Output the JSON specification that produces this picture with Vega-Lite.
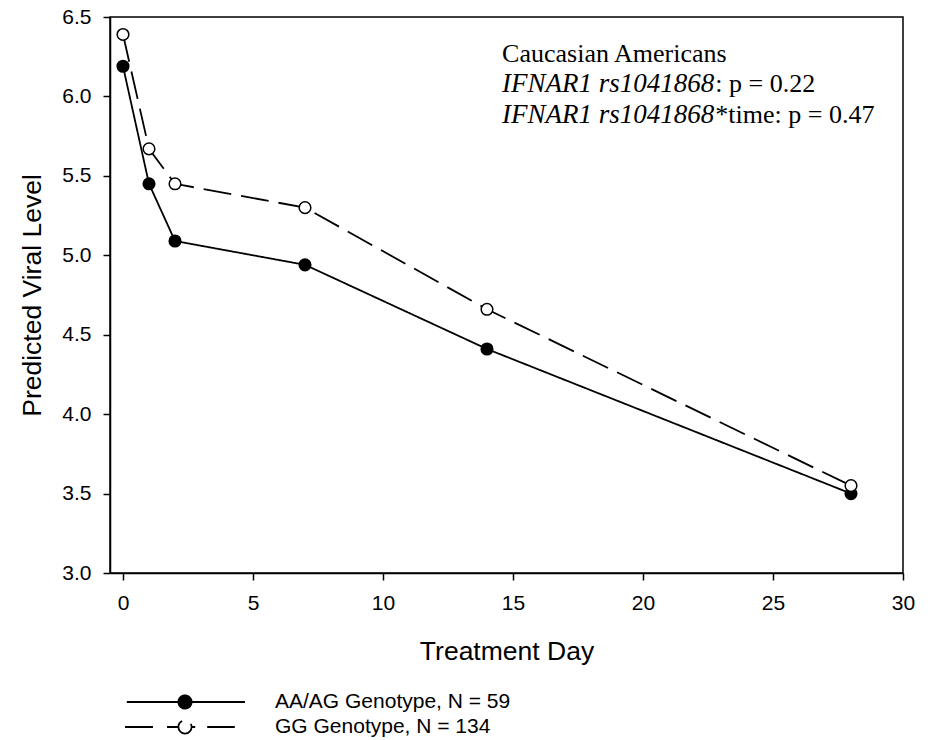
{
  "$schema": "https://vega.github.io/schema/vega-lite/v6.json",
  "width": 793,
  "height": 556,
  "autosize": {"type": "none"},
  "padding": {"left": 110, "top": 17, "right": 34, "bottom": 167},
  "background": "white",
  "config": {
    "font": "Liberation Sans",
    "view": {"stroke": "black", "strokeWidth": 1.5},
    "axis": {
      "grid": false,
      "domainColor": "black",
      "domainWidth": 1.5,
      "tickColor": "black",
      "tickWidth": 1.5,
      "tickSize": 7,
      "labelColor": "black",
      "labelFont": "Liberation Sans",
      "labelFontSize": 21,
      "labelFlush": false,
      "labelOverlap": false,
      "titleFont": "Liberation Sans",
      "titleFontSize": 26.5,
      "titleFontWeight": "normal",
      "titleColor": "black"
    }
  },
  "datasets": {
    "series": [
      {"day": 0, "level": 6.19, "genotype": "AA/AG Genotype, N = 59"},
      {"day": 1, "level": 5.45, "genotype": "AA/AG Genotype, N = 59"},
      {"day": 2, "level": 5.09, "genotype": "AA/AG Genotype, N = 59"},
      {"day": 7, "level": 4.94, "genotype": "AA/AG Genotype, N = 59"},
      {"day": 14, "level": 4.41, "genotype": "AA/AG Genotype, N = 59"},
      {"day": 28, "level": 3.5, "genotype": "AA/AG Genotype, N = 59"},
      {"day": 0, "level": 6.39, "genotype": "GG Genotype, N = 134"},
      {"day": 1, "level": 5.67, "genotype": "GG Genotype, N = 134"},
      {"day": 2, "level": 5.45, "genotype": "GG Genotype, N = 134"},
      {"day": 7, "level": 5.3, "genotype": "GG Genotype, N = 134"},
      {"day": 14, "level": 4.66, "genotype": "GG Genotype, N = 134"},
      {"day": 28, "level": 3.55, "genotype": "GG Genotype, N = 134"}
    ],
    "notes_regular": [
      {"tx": 14.58, "ty": 6.217, "label": "Caucasian Americans"},
      {"tx": 22.78, "ty": 6.028, "label": ": p = 0.22"},
      {"tx": 22.78, "ty": 5.833, "label": "*time: p = 0.47"}
    ],
    "notes_italic": [
      {"tx": 14.58, "ty": 6.028, "label": "IFNAR1 rs1041868"},
      {"tx": 14.58, "ty": 5.833, "label": "IFNAR1 rs1041868"}
    ]
  },
  "layer": [
    {
      "data": {"name": "series"},
      "mark": {"type": "line", "color": "black", "strokeWidth": 1.8},
      "encoding": {
        "x": {
          "field": "day",
          "type": "quantitative",
          "scale": {"domain": [-0.5, 30], "nice": false, "zero": false},
          "axis": {"title": "Treatment Day", "values": [0, 5, 10, 15, 20, 25, 30], "labelPadding": 12, "titlePadding": 25}
        },
        "y": {
          "field": "level",
          "type": "quantitative",
          "scale": {"domain": [3, 6.5], "nice": false, "zero": false},
          "axis": {"title": "Predicted Viral Level", "values": [3, 3.5, 4, 4.5, 5, 5.5, 6, 6.5], "format": ".1f", "labelPadding": 12, "titlePadding": 15}
        },
        "strokeDash": {
          "field": "genotype",
          "type": "nominal",
          "scale": {"domain": ["AA/AG Genotype, N = 59", "GG Genotype, N = 134"], "range": [[1, 0], [28, 10]]},
          "legend": {
            "title": null,
            "orient": "none",
            "legendX": 14,
            "legendY": 673,
            "padding": 0,
            "symbolType": "M-1,0L1,0",
            "symbolSize": 14400,
            "symbolStrokeWidth": 1.8,
            "symbolStrokeColor": "black",
            "clipHeight": 24,
            "rowPadding": 1,
            "labelOffset": 29,
            "labelFont": "Liberation Sans",
            "labelFontSize": 21,
            "labelColor": "black",
            "labelLimit": 400,
            "encode": {
              "symbols": {
                "update": {
                  "shape": {"signal": "datum.value === 'AA/AG Genotype, N = 59' ? 'M-0.97,0L1,0M0.11,0C0.11,0.0608,0.0608,0.11,0,0.11C-0.0608,0.11,-0.11,0.0608,-0.11,0C-0.11,-0.0608,-0.0608,-0.11,0,-0.11C0.0608,-0.11,0.11,-0.0608,0.11,0Z' : 'M-1,0L-0.5,0M-0.3,0L-0.11,0M0.11,0L0.17,0M0.37,0L0.83,0M0.11,0C0.11,0.0608,0.0608,0.11,0,0.11C-0.0608,0.11,-0.11,0.0608,-0.11,0C-0.11,-0.0608,-0.0608,-0.11,0,-0.11C0.0608,-0.11,0.11,-0.0608,0.11,0Z'"},
                  "fill": {"signal": "datum.value === 'AA/AG Genotype, N = 59' ? 'black' : 'white'"},
                  "fillOpacity": {"value": 1},
                  "stroke": {"value": "black"},
                  "strokeWidth": {"value": 1.8},
                  "strokeDash": {"value": [1, 0]},
                  "opacity": {"value": 1}
                }
              }
            }
          }
        }
      }
    },
    {
      "data": {"name": "series"},
      "mark": {"type": "point", "shape": "circle", "filled": true, "size": 135, "stroke": "black", "strokeWidth": 1.5, "opacity": 1, "fillOpacity": 1},
      "encoding": {
        "x": {"field": "day", "type": "quantitative"},
        "y": {"field": "level", "type": "quantitative"},
        "fill": {
          "field": "genotype",
          "type": "nominal",
          "scale": {"domain": ["AA/AG Genotype, N = 59", "GG Genotype, N = 134"], "range": ["black", "white"]},
          "legend": null
        }
      }
    },
    {
      "data": {"name": "notes_regular"},
      "mark": {"type": "text", "align": "left", "baseline": "alphabetic", "font": "Liberation Serif", "fontSize": 26, "color": "black"},
      "encoding": {
        "x": {"field": "tx", "type": "quantitative"},
        "y": {"field": "ty", "type": "quantitative"},
        "text": {"field": "label", "type": "nominal"}
      }
    },
    {
      "data": {"name": "notes_italic"},
      "mark": {"type": "text", "align": "left", "baseline": "alphabetic", "font": "Liberation Serif", "fontStyle": "italic", "fontSize": 27, "color": "black"},
      "encoding": {
        "x": {"field": "tx", "type": "quantitative"},
        "y": {"field": "ty", "type": "quantitative"},
        "text": {"field": "label", "type": "nominal"}
      }
    }
  ]
}
